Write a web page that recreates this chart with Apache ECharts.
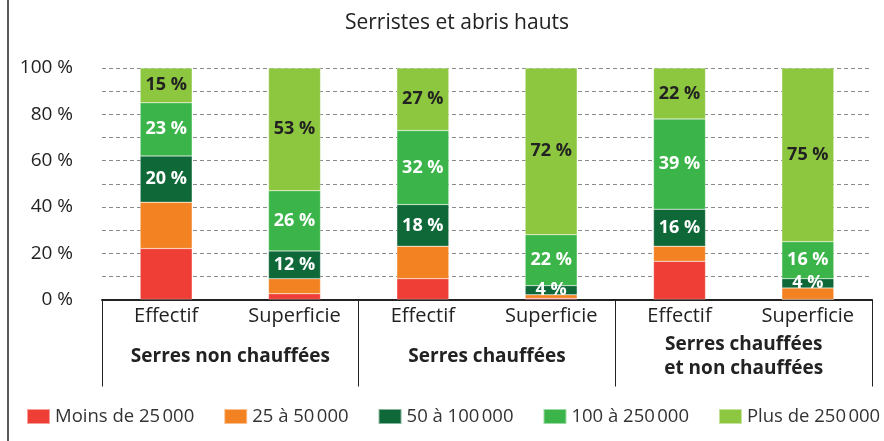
<!DOCTYPE html>
<html>
<head>
<meta charset="utf-8">
<script src="https://cdn.jsdelivr.net/npm/echarts@6/dist/echarts.min.js"></script>
<style>
  html, body { margin: 0; padding: 0; background: #fff; }
  #chart { width: 884px; height: 441px; }
</style>
</head>
<body>
<div id="chart"></div>
<script>
const bars = ["Effectif", "Superficie", "Effectif", "Superficie", "Effectif", "Superficie"];
const groups = ["Serres non chauffées", "Serres chauffées", "Serres chauffées\net non chauffées"];
const seriesNames = ["Moins de 25\u202f000", "25 à 50\u202f000", "50 à 100\u202f000", "100 à 250\u202f000", "Plus de 250\u202f000"];

// percentages per bar (bottom to top)
const moins25 = [22, 2.5, 9, 0.5, 16.5, 0];
const de25a50 = [20, 6.5, 14, 1.5, 6.5, 5];
const de50a100 = [20, 12, 18, 4, 16, 4];
const de100a250 = [23, 26, 32, 22, 39, 16];
const plus250 = [15, 53, 27, 72, 22, 75];

const yTicks = [0, 20, 40, 60, 80, 100];

const colors = ["#ee3e36", "#f38322", "#0e6838", "#3bb54a", "#8dc63f"];
const values = [moins25, de25a50, de50a100, de100a250, plus250];
const showLabel = [false, false, true, true, true];
const labelColor = ["#fff", "#fff", "#fff", "#fff", "#222"];

const chart = echarts.init(document.getElementById("chart"));

chart.setOption({
  animation: false,
  textStyle: { fontFamily: "'Open Sans', 'Noto Sans', sans-serif" },
  title: {
    text: "Serristes et abris hauts",
    left: 452,
    textAlign: "center",
    top: 8,
    textStyle: { fontSize: 21, fontWeight: "normal", color: "#222" },
  },
  legend: {
    left: 26,
    top: 407,
    width: 858,
    padding: 0,
    itemWidth: 23,
    itemHeight: 15,
    itemGap: 29,
    icon: "rect",
    textStyle: { fontSize: 18.5, color: "#333" },
    data: seriesNames,
  },
  grid: { left: 102, right: 12, top: 68, bottom: 141.5 },
  xAxis: [
    {
      type: "category",
      data: bars,
      axisLine: { show: false },
      axisTick: { show: false },
      axisLabel: { margin: 7, fontSize: 20, color: "#222" },
    },
    {
      type: "category",
      data: groups,
      position: "bottom",
      axisLine: { show: true, lineStyle: { color: "#222", width: 2 } },
      axisTick: { show: true, interval: 0, length: 87, alignWithLabel: false, lineStyle: { color: "#222", width: 1 } },
      axisLabel: {
        interval: 0,
        margin: 57,
        verticalAlign: "middle",
        fontSize: 19,
        fontWeight: "bold",
        lineHeight: 24,
        color: "#222",
      },
    },
  ],
  yAxis: {
    type: "value",
    min: 0,
    max: 100,
    interval: 10,
    axisLine: { show: false },
    axisTick: { show: false },
    axisLabel: {
      margin: 29,
      fontSize: 19,
      color: "#222",
      formatter: (v) => (yTicks.includes(v) ? v + "\u00a0%" : ""),
    },
    splitLine: { lineStyle: { color: "#8a8a8a", type: [4, 3], width: 1 } },
  },
  series: seriesNames.map((name, i) => ({
    name: name,
    type: "bar",
    stack: "total",
    xAxisIndex: 0,
    barWidth: 52,
    data: values[i],
    itemStyle: { color: colors[i], borderColor: "rgba(255,255,255,0.5)", borderWidth: 0.5 },
    label: {
      show: showLabel[i],
      position: "inside",
      formatter: "{c}\u00a0%",
      fontSize: 18,
      fontWeight: "bold",
      color: labelColor[i],
    },
  })),
  graphic: [
    {
      type: "line",
      shape: { x1: 8, y1: 0, x2: 8, y2: 441 },
      style: { stroke: "#222", lineWidth: 1.5 },
    },
  ],
});
</script>
</body>
</html>
